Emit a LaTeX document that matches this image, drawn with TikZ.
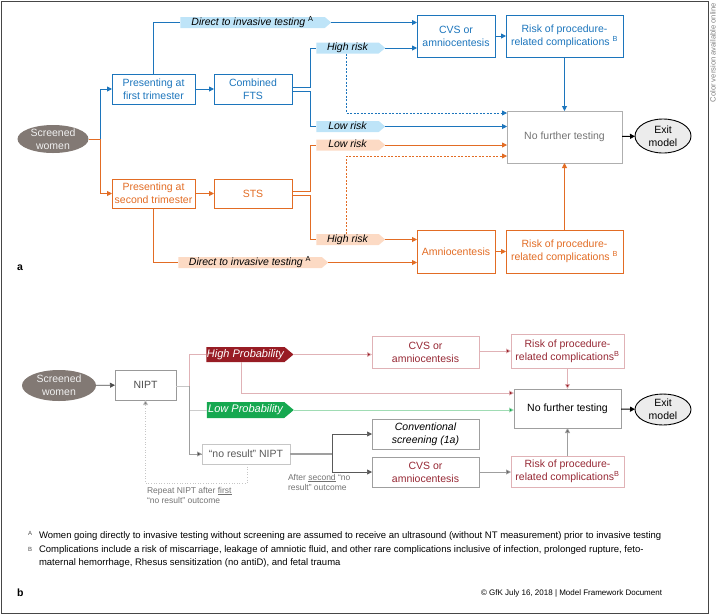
\documentclass[tikz,border=0pt]{standalone}
\usepackage{fontspec}
\setmainfont{Liberation Sans}
\usetikzlibrary{shapes.geometric,shapes.symbols,arrows.meta,calc}
\definecolor{blueL}{RGB}{28,117,188}
\definecolor{blueF}{RGB}{190,228,248}
\definecolor{orangeL}{RGB}{226,108,36}
\definecolor{orangeF}{RGB}{252,218,196}
\definecolor{swgray}{RGB}{130,121,116}
\definecolor{dred}{RGB}{152,28,36}
\definecolor{redtxt}{RGB}{150,40,52}
\definecolor{pinkL}{RGB}{224,178,182}
\definecolor{greenT}{RGB}{22,168,80}
\definecolor{greenL}{RGB}{160,220,180}
\definecolor{frameC}{RGB}{70,70,70}
\definecolor{nftC}{RGB}{175,175,175}
\begin{document}
\begin{tikzpicture}[x=1pt,y=-1pt,
  every node/.style={inner sep=0pt, outer sep=0pt},
  fs/.style={font=\fontsize{10.5}{13}\selectfont},
  box/.style={draw, line width=0.9pt, align=center, fs},
  tagbox/.style={shape=signal, signal to=east, signal pointer angle=80,
     inner xsep=0pt, inner ysep=0pt, text height=7.5pt, text depth=2pt,
     font=\fontsize{10.5}{13}\selectfont\itshape},
  bigtag/.style={shape=signal, signal to=east, signal pointer angle=80,
     inner xsep=0pt, inner ysep=0pt, text height=8pt, text depth=2.5pt, text=white,
     font=\fontsize{11}{13}\selectfont\itshape},
  arr/.style={-{Triangle[length=5pt,width=5pt]}},
  ln/.style={line width=0.9pt},
  thin/.style={line width=0.7pt},
  dsh/.style={line width=0.8pt, dash pattern=on 2pt off 1.5pt},
  small/.style={font=\fontsize{9.5}{13}\selectfont}
]
\useasboundingbox (0,0) rectangle (717,614);
\draw[line width=1pt, frameC] (1.5,1) rectangle (708,613);
\node[rotate=90, anchor=east, text=gray, font=\fontsize{7.6}{8}\selectfont] (cv) at (713,3) {Color version available online};

% ---------------- panel a ----------------
\node[ellipse, fill=swgray, minimum width=71, minimum height=28] (sw1) at (53,139) {};
\node[fs, align=center, text=white!88!gray] (sw1t) at (sw1) {Screened\\women};
\node[box, draw=blueL, text=blueL, minimum width=83, minimum height=30] (ft) at (153.5,89) {Presenting at\\first trimester};
\node[box, draw=blueL, text=blueL, minimum width=78, minimum height=30] (fts) at (253,89) {Combined\\FTS};
\node[box, draw=orangeL, text=orangeL, minimum width=83, minimum height=29] (st) at (153.5,193.5) {Presenting at\\second trimester};
\node[box, draw=orangeL, text=orangeL, minimum width=78, minimum height=29] (sts) at (253,193.5) {STS};
\node[box, draw=blueL, text=blueL, minimum width=78, minimum height=42] (cvs1) at (456,36) {CVS or\\amniocentesis};
\node[box, draw=blueL, text=blueL, minimum width=117, minimum height=42] (risk1) at (564.5,36) {Risk of procedure-\\related complications \textsuperscript{B}};
\node[box, draw=nftC, text=gray!90!black, minimum width=115, minimum height=52] (nft1) at (564.5,137) {No further testing};
\node[ellipse, draw=black, line width=0.9pt, fill=gray!15, minimum width=56, minimum height=34] (exit1) at (663,136) {};
\node[fs, align=center] (exit1t) at (exit1) {Exit\\model};
\node[box, draw=orangeL, text=orangeL, minimum width=78, minimum height=43] (amn) at (456,251.5) {Amniocentesis};
\node[box, draw=orangeL, text=orangeL, minimum width=117, minimum height=43] (risk2) at (564.5,251.5) {Risk of procedure-\\related complications \textsuperscript{B}};

\node[tagbox, fill=blueF, minimum width=151, minimum height=11] (dit1) at (252.5,22.5) {Direct to invasive testing \textsuperscript{\upshape A}};
\node[tagbox, fill=blueF, minimum width=69, minimum height=11] (hr1) at (347.5,48) {High risk};
\node[tagbox, fill=blueF, minimum width=69, minimum height=11] (lr1) at (347.5,126.5) {Low risk};
\node[tagbox, fill=orangeF, minimum width=69, minimum height=11] (lr2) at (347.5,145) {Low risk};
\node[tagbox, fill=orangeF, minimum width=69, minimum height=11] (hr2) at (347.5,239.5) {High risk};
\node[tagbox, fill=orangeF, minimum width=150, minimum height=11] (dit2) at (250,262.5) {Direct to invasive testing \textsuperscript{\upshape A}};

\coordinate (b1) at (100,139);
\draw[ln, orangeL] (sw1.east) -- (b1);
\draw[ln, blueL, arr] (b1) |- (ft.west);
\draw[ln, orangeL, arr] (b1) |- (st.west);
\draw[ln, blueL, arr] (ft) -- (fts);
\draw[ln, orangeL, arr] (st) -- (sts);
\draw[ln, blueL] (ft.north) |- (dit1.west);
\draw[ln, blueL, arr] (dit1.east) -- (dit1.east -| cvs1.west);
\draw[ln, blueL] ([yshift=2pt]fts.east) -| ([xshift=-6pt]hr1.west) -- (hr1.west);
\draw[ln, blueL] ([yshift=-2pt]fts.east) -| ([xshift=-6pt]lr1.west) -- (lr1.west);
\draw[ln, blueL, arr] (hr1.east) -- (hr1.east -| cvs1.west);
\draw[ln, blueL, arr] (lr1.east) -- (lr1.east -| nft1.west);
\draw[dsh, blueL, arr] ([xshift=-1pt]hr1.south) |- ([yshift=24pt]nft1.west);
\draw[ln, blueL, arr] (cvs1) -- (risk1);
\draw[ln, blueL, arr] (risk1.south) -- (nft1.north);
\draw[ln, orangeL] ([yshift=2pt]sts.east) -| ([xshift=-6pt]lr2.west) -- (lr2.west);
\draw[ln, orangeL] ([yshift=-2pt]sts.east) -| ([xshift=-6pt]hr2.west) -- (hr2.west);
\draw[ln, orangeL, arr] (lr2.east) -- (lr2.east -| nft1.west);
\draw[ln, orangeL, arr] (hr2.east) -- (hr2.east -| amn.west);
\draw[dsh, orangeL, arr] ([xshift=-1pt]hr2.north) |- ([yshift=-19pt]nft1.west);
\draw[ln, orangeL] (st.south) |- (dit2.west);
\draw[ln, orangeL, arr] (dit2.east) -- (dit2.east -| amn.west);
\draw[ln, orangeL, arr] (amn) -- (risk2);
\draw[ln, orangeL, arr] (risk2.north) -- (nft1.south);
\draw[ln, black, arr] (nft1) -- (exit1);
\node[anchor=west, font=\fontsize{10.5}{12}\selectfont\bfseries] (la) at (17,268) {a};

% ---------------- panel b ----------------
\node[ellipse, fill=swgray, minimum width=74, minimum height=31] (sw2) at (59,385.5) {};
\node[fs, align=center, text=white!88!gray] (sw2t) at (sw2) {Screened\\women};
\node[box, draw=gray!80, text=black!70, thin, minimum width=61, minimum height=30] (nipt) at (145.5,385) {NIPT};
\node[bigtag, fill=dred, minimum width=87, minimum height=15] (hp) at (245.5,354.5) {High Probability};
\node[bigtag, fill=greenT, minimum width=87, minimum height=16] (lp) at (245.5,410) {Low Probability};
\node[box, draw=gray!45, text=black!65, thin, minimum width=88, minimum height=20] (nr) at (246,454) {“no result” NIPT};
\node[box, draw=pinkL, text=redtxt, thin, minimum width=107, minimum height=32] (cvs2) at (425.5,352) {CVS or\\amniocentesis};
\node[box, draw=pinkL, text=redtxt, thin, minimum width=113, minimum height=34] (risk3) at (567.5,351) {Risk of procedure-\\related complications\textsuperscript{B}};
\node[box, draw=gray!75, thin, minimum width=107, minimum height=39] (nft2) at (567.5,408.5) {No further testing};
\node[ellipse, draw=black, line width=0.9pt, fill=gray!15, minimum width=56, minimum height=31] (exit2) at (663,409.5) {};
\node[fs, align=center] (exit2t) at (exit2) {Exit\\model};
\node[box, draw=gray!75, thin, font=\fontsize{10.5}{13}\selectfont\itshape, minimum width=107, minimum height=30] (conv) at (425.5,434) {Conventional\\screening (1a)};
\node[box, draw=gray!75, text=redtxt, thin, minimum width=107, minimum height=30] (cvs3) at (425.5,472) {CVS or\\amniocentesis};
\node[box, draw=pinkL, text=redtxt, thin, minimum width=113, minimum height=31] (risk4) at (567.5,471.5) {Risk of procedure-\\related complications\textsuperscript{B}};

\coordinate (nb) at (189,386);
\coordinate (nr2) at (332,454);
\draw[thin, black!70, arr] (sw2) -- (nipt);
\draw[thin, gray!45] (nipt.east |- nb) -- (nb);
\draw[thin, pinkL] (nb) |- (hp.west);
\draw[thin, gray!40] (nb) |- (lp.west);
\draw[thin, gray!75] (nb) |- (nr.west);
\draw[thin, gray!75, -{Triangle[length=5pt,width=5pt,fill=black!70]}] ([xshift=-12pt]nr.west) -- (nr.west);
\draw[thin, pinkL, -{Triangle[length=5pt,width=5pt,fill=dred]}] (hp.east) -- (hp.east -| cvs2.west);
\draw[thin, pinkL, -{Triangle[length=5pt,width=5pt,fill=dred]}] ([xshift=-4pt]hp.south) |- ([yshift=15.5pt]nft2.west);
\draw[thin, greenL, -{Triangle[length=5pt,width=5pt,fill=greenT]}] (lp.east) -- (lp.east -| nft2.west);
\draw[thin, pinkL, -{Triangle[length=5pt,width=5pt,fill=dred]}] (cvs2.east |- risk3) -- (risk3.west);
\draw[thin, pinkL, -{Triangle[length=5pt,width=5pt,fill=dred]}] (risk3.south) -- (nft2.north);
\draw[thin, gray!75, -{Triangle[length=5pt,width=5pt,fill=black!60]}] (risk4.north) -- (nft2.south);
\draw[thin, gray!75, -{Triangle[length=5pt,width=5pt,fill=black!60]}] (cvs3) -- (risk4.west |- cvs3);
\draw[line width=1.8pt, gray!75] (nr.east) -- (nr2);
\draw[thin, black!65] (nr2 |- conv) -- (nr2 |- cvs3);
\draw[thin, black!65, arr] (nr2 |- conv) -- (conv.west);
\draw[thin, black!65, arr] (nr2 |- cvs3) -- (cvs3.west);
\draw[line width=0.6pt, gray!45, dotted, -{Triangle[length=5pt,width=5pt,fill=gray]}] ([xshift=1pt]nr.south) -- ++(0,19) -| (nipt.south);
\draw[line width=1pt, black, arr] (nft2) -- (exit2);

\node[anchor=north west, align=left, text=gray!90!black, font=\fontsize{8.5}{10.5}\selectfont] (rep) at (147,487) {Repeat NIPT after \underline{first}\\“no result” outcome};
\node[anchor=north west, align=left, text=gray!90!black, font=\fontsize{8.5}{10.5}\selectfont] (aft) at (288,474) {After \underline{second} “no\\result” outcome};

% ---------------- footnotes ----------------
\node[anchor=base west, font=\fontsize{6}{7}\selectfont, text=black!70] (fa) at (28,535) {A};
\node[anchor=base west, small] (fat) at (39,538.5) {Women going directly to invasive testing without screening are assumed to receive an ultrasound (without NT measurement) prior to invasive testing};
\node[anchor=base west, font=\fontsize{6}{7}\selectfont, text=black!70] (fb) at (28,551) {B};
\node[anchor=north west, align=left, small] (fbt) at (39,546) {Complications include a risk of miscarriage, leakage of amniotic fluid, and other rare complications inclusive of infection, prolonged rupture, feto-\\maternal hemorrhage, Rhesus sensitization (no antiD), and fetal trauma};
\node[anchor=west, font=\fontsize{10.5}{12}\selectfont\bfseries] (lb) at (17,593) {b};
\node[anchor=east, font=\fontsize{8}{9}\selectfont] (copy) at (662,593) {© GfK July 16, 2018 | Model Framework Document};
\end{tikzpicture}
\end{document}
